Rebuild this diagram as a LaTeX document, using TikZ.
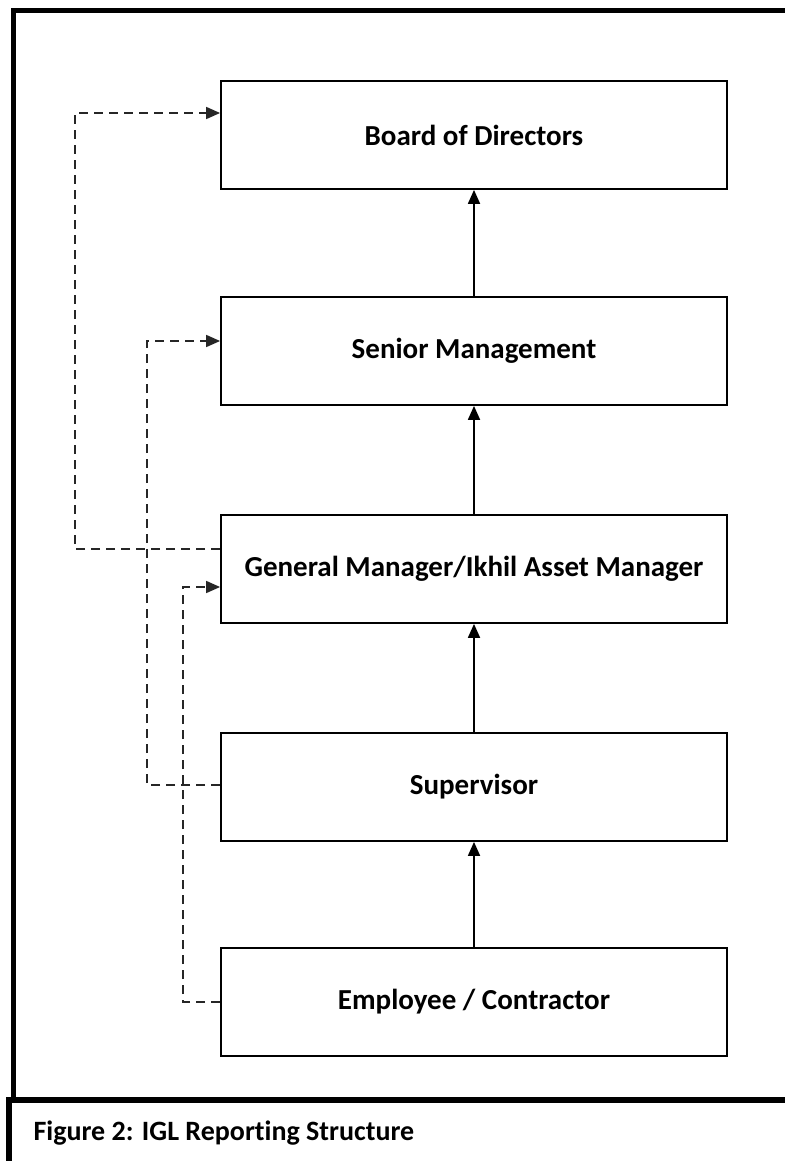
\documentclass[tikz,border=0pt]{standalone}
\usepackage{fontspec}
\setmainfont[RawFeature={-liga;-clig;-calt}]{Carlito}
\usetikzlibrary{arrows.meta}
\begin{document}
\begin{tikzpicture}[x=1pt, y=-1pt,
  box/.style={draw, line width=1.8pt, minimum width=506pt, minimum height=108pt, inner sep=0pt,
    font=\bfseries\fontsize{29}{34}\selectfont},
  arr/.style={-{Triangle[length=14pt,width=12pt]}, line width=1.8pt},
  rep/.style={-{Triangle[length=14pt,width=12pt]}, line width=1.6pt, draw=black!85,
    dash pattern=on 9pt off 6pt},
  frame/.style={line width=5pt}
]
\useasboundingbox (0,0) rectangle (784,1161);
% outer frame and caption panel
\draw[frame] (13,1100) -- (13,11) -- (800,11);
\draw[frame, line width=6pt] (9,1200) -- (9,1100) -- (800,1100);
\node[anchor=west, font=\bfseries\fontsize{28}{32}\selectfont] (cap) at (30,1133) {Figure 2: IGL Reporting Structure};
% reporting levels
\node[box] (bod) at (474,135) {Board of Directors};
\node[box] (sm) at (474,351) {Senior Management};
\node[box] (gm) at (474,569) {General Manager/Ikhil Asset Manager};
\node[box] (sup) at (474,787) {Supervisor};
\node[box] (emp) at (474,1002) {Employee / Contractor};
% line reporting
\draw[arr] (emp) -- (sup);
\draw[arr] (sup) -- (gm);
\draw[arr] (gm) -- (sm);
\draw[arr] (sm) -- (bod);
% skip-level reporting
\draw[rep] ([yshift=20pt]gm.west) -- ++(-145,0) |- ([yshift=22pt]bod.west);
\draw[rep] ([yshift=2pt]sup.west) -- ++(-73,0) |- ([yshift=10pt]sm.west);
\draw[rep] (emp.west) -- ++(-37,0) |- ([yshift=-18pt]gm.west);
\end{tikzpicture}
\end{document}
